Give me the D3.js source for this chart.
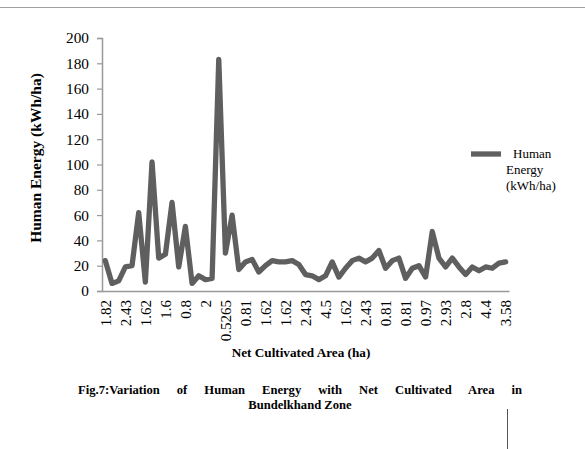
<!DOCTYPE html>
<html>
  <head>
    <meta charset="utf-8">
    <title></title>
  </head>
  <style>
  body{
      margin: 0;
      background-color: #fff;
      font-family: "Liberation Serif", "Times New Roman", serif;
    }
  </style>
  <script src="https://d3js.org/d3.v7.min.js"></script>
  <body>
    <script>
    // every 3rd category label as printed on the x axis
    const tickLabels = ["1.82", "2.43", "1.62", "1.6", "0.8", "2", "0.5265", "0.81", "1.62", "1.62", "2.43",
                        "4.5", "1.62", "2.43", "0.81", "0.81", "0.97", "2.93", "2.8", "4.4", "3.58"]
    // Human Energy (kWh/ha), one value per farm
    const humanEnergy = [24, 6, 8, 19, 20, 62, 7, 102, 26, 29,
                         70, 19, 51, 6, 12, 9, 10, 183, 30, 60,
                         17, 23, 25, 15, 20, 24, 23, 23, 24, 21,
                         13, 12, 9, 12, 23, 11, 18, 24, 26, 23,
                         26, 32, 18, 24, 26, 10, 18, 20, 11, 47,
                         26, 19, 26, 19, 13, 19, 16, 19, 18, 22, 23]
    const yTicks = [0, 20, 40, 60, 80, 100, 120, 140, 160, 180, 200]

    var W = 585, H = 449
    var plot = { left: 102, right: 509, top: 38, bottom: 291 }

    var svg = d3.select("body").append("svg")
                .attr("width", W)
                .attr("height", H)

    // frame lines
    svg.append("line").attr("x1", 0).attr("x2", W).attr("y1", 7.5).attr("y2", 7.5)
       .attr("stroke", "#a0a0a0").attr("stroke-width", 1)
    svg.append("line").attr("x1", 507.5).attr("x2", 507.5).attr("y1", 409).attr("y2", H)
       .attr("stroke", "#555").attr("stroke-width", 1)

    // scales
    var idx = d3.range(humanEnergy.length)
    var xScale = d3.scaleBand().domain(idx).range([plot.left, plot.right])
    var yScale = d3.scaleLinear().domain([0, 200]).range([plot.bottom, plot.top])

    // y axis
    var yAxis = d3.axisLeft(yScale).tickValues(yTicks).tickSize(5).tickPadding(8)
    var gy = svg.append("g")
       .attr("transform", "translate(" + plot.left + ",0)")
       .call(yAxis)
    gy.select(".domain").attr("stroke", "#999").attr("stroke-width", 1.5)
    gy.selectAll(".tick line").attr("stroke", "#999").attr("stroke-width", 1.2)
    gy.selectAll(".tick text").attr("font-family", "Liberation Serif").attr("font-size", "15.3px").attr("fill", "#000")

    // x axis
    var xAxis = d3.axisBottom(xScale)
                  .tickValues(idx.filter(function(i){ return i % 3 == 0 }))
                  .tickFormat(function(i){ return tickLabels[i / 3] })
                  .tickSize(0).tickSizeOuter(0)
    var gx = svg.append("g")
       .attr("transform", "translate(0," + plot.bottom + ")")
       .call(xAxis)
    gx.select(".domain").attr("stroke", "#999").attr("stroke-width", 1.5)
    gx.selectAll(".tick text")
       .attr("font-family", "Liberation Serif").attr("font-size", "15px").attr("fill", "#000")
       .attr("transform", "rotate(-90)")
       .attr("text-anchor", "end")
       .attr("x", -9).attr("y", 0).attr("dy", "0.35em")

    // line
    var line = d3.line()
                 .x(function(d, i){ return xScale(i) + xScale.bandwidth() / 2 })
                 .y(function(d){ return yScale(d) })
    svg.append("path")
       .datum(humanEnergy)
       .attr("d", line)
       .attr("fill", "none")
       .attr("stroke", "#5f5f5f")
       .attr("stroke-width", 5.3)
       .attr("stroke-linejoin", "round")
       .attr("stroke-linecap", "round")

    // legend
    svg.append("line").attr("x1", 471).attr("x2", 501).attr("y1", 154).attr("y2", 154)
       .attr("stroke", "#5f5f5f").attr("stroke-width", 5.3)
    var leg = svg.append("text").attr("x", 512).attr("y", 158)
       .attr("font-size", "13px").attr("fill", "#000")
    leg.selectAll("tspan").data(["Human", "Energy", "(kWh/ha)"]).enter().append("tspan")
       .attr("x", function(d, i){ return i == 0 ? 513 : 506 })
       .attr("dy", function(d, i){ return i == 0 ? 0 : 16 })
       .text(function(d){ return d })

    // axis titles
    svg.append("text")
       .attr("transform", "translate(41,158) rotate(-90)")
       .attr("text-anchor", "middle")
       .attr("font-size", "15.5px").attr("font-weight", "bold")
       .text("Human Energy (kWh/ha)")
    svg.append("text")
       .attr("x", 301).attr("y", 357)
       .attr("text-anchor", "middle")
       .attr("font-size", "13.2px").attr("font-weight", "bold")
       .text("Net Cultivated Area (ha)")

    // caption, first line justified across the text column
    var cap1 = svg.append("text").attr("x", 78).attr("y", 394)
       .attr("font-size", "12.6px").attr("font-weight", "bold")
       .text("Fig.7:Variation of Human Energy with Net Cultivated Area in")
    var natural = cap1.node().getComputedTextLength()
    cap1.attr("word-spacing", ((522 - 78) - natural) / 8)
    svg.append("text").attr("x", 300).attr("y", 409)
       .attr("text-anchor", "middle")
       .attr("font-size", "12.6px").attr("font-weight", "bold")
       .text("Bundelkhand Zone")
    </script>
  </body>
</html>
